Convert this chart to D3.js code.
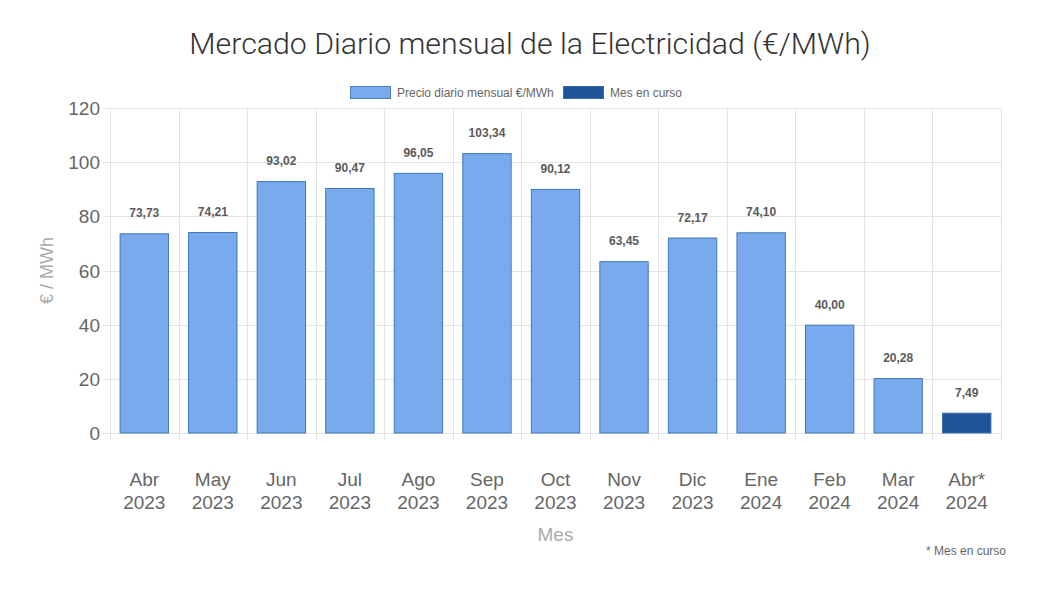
<!DOCTYPE html>
<html>
    <head>
        <meta charset="utf-8">
        <title>Mercado Diario mensual de la Electricidad</title>
        <script src="https://d3js.org/d3.v7.min.js"></script>
        <style>
            body {
                margin: 0;
                background: #ffffff;
                font-family: 'Liberation Sans', Arial, sans-serif;
            }
            svg {
                display: block;
            }
            .grid line {
                stroke: #e4e4e4;
                stroke-width: 1px;
            }
            .tick-label {
                fill: #666;
                font-size: 19px;
            }
            .value-label {
                fill: #5a5a5a;
                font-size: 12px;
                font-weight: bold;
            }
        </style>
    </head>
    <body>
        <script>
            const months = ['Abr', 'May', 'Jun', 'Jul', 'Ago', 'Sep', 'Oct', 'Nov', 'Dic', 'Ene', 'Feb', 'Mar', 'Abr*'];
            const years = ['2023', '2023', '2023', '2023', '2023', '2023', '2023', '2023', '2023', '2024', '2024', '2024', '2024'];
            const prices = [73.73, 74.21, 93.02, 90.47, 96.05, 103.34, 90.12, 63.45, 72.17, 74.1, 40.0, 20.28, 7.49];
            const current = [false, false, false, false, false, false, false, false, false, false, false, false, true];
            const yTicks = [0, 20, 40, 60, 80, 100, 120];

            const width = 1052;
            const height = 599;
            const margin = { left: 110, right: 51, top: 108, bottom: 166 };
            const plotW = width - margin.left - margin.right;
            const plotH = height - margin.top - margin.bottom;

            const svg = d3.select('body').append('svg').attr('width', width).attr('height', height);

            const x = d3.scaleBand().domain(d3.range(months.length)).range([margin.left, margin.left + plotW]).paddingInner(0).paddingOuter(0);
            const y = d3.scaleLinear().domain([0, 120]).range([margin.top + plotH, margin.top]);
            const barW = x.bandwidth() * 0.72;

            // title
            svg.append('text')
                .attr('x', 530)
                .attr('y', 54)
                .attr('text-anchor', 'middle')
                .style('font-family', 'Roboto, sans-serif')
                .style('font-weight', 300)
                .style('font-size', '30.3px')
                .style('fill', '#333')
                .text('Mercado Diario mensual de la Electricidad (€/MWh)');

            // legend
            const legendItems = [
                { label: 'Precio diario mensual €/MWh', fill: '#7aaaee', stroke: '#4a7fb8', x: 350 },
                { label: 'Mes en curso', fill: '#1f5497', stroke: '#3b6da8', x: 563 }
            ];
            const legend = svg.append('g');
            legend.selectAll('rect').data(legendItems).enter().append('rect')
                .attr('x', (d) => d.x + 0.5)
                .attr('y', 86.5)
                .attr('width', 40)
                .attr('height', 12)
                .attr('fill', (d) => d.fill)
                .attr('stroke', (d) => d.stroke);
            legend.selectAll('text').data(legendItems).enter().append('text')
                .attr('x', (d) => d.x + 47)
                .attr('y', 97)
                .style('font-size', '12px')
                .style('fill', '#666')
                .text((d) => d.label);

            // horizontal grid
            const grid = svg.append('g').attr('class', 'grid');
            grid.selectAll('line.h').data(yTicks).enter().append('line')
                .attr('class', 'h')
                .attr('x1', margin.left - 7)
                .attr('x2', margin.left + plotW)
                .attr('y1', (d) => Math.round(y(d)) + 0.5)
                .attr('y2', (d) => Math.round(y(d)) + 0.5);

            // vertical grid at category boundaries
            const bounds = d3.range(months.length + 1).map((i) => margin.left + i * x.step());
            grid.selectAll('line.v').data(bounds).enter().append('line')
                .attr('class', 'v')
                .attr('x1', (d) => Math.round(d) + 0.5)
                .attr('x2', (d) => Math.round(d) + 0.5)
                .attr('y1', margin.top)
                .attr('y2', margin.top + plotH + 7);

            // y tick labels
            svg.append('g').selectAll('text').data(yTicks).enter().append('text')
                .attr('class', 'tick-label')
                .attr('x', margin.left - 10)
                .attr('y', (d) => y(d) + 7)
                .attr('text-anchor', 'end')
                .text((d) => d);

            // y axis title
            svg.append('text')
                .attr('transform', `translate(53,${margin.top + plotH / 2}) rotate(-90)`)
                .attr('text-anchor', 'middle')
                .style('font-size', '18px')
                .style('fill', '#aaa')
                .text('€ / MWh');

            // bars
            svg.append('g').selectAll('rect').data(prices).enter().append('rect')
                .attr('x', (d, i) => x(i) + (x.bandwidth() - barW) / 2 + 0.5)
                .attr('y', (d) => y(d) + 0.5)
                .attr('width', barW - 1)
                .attr('height', (d) => y(0) - y(d) - 0.5)
                .attr('fill', (d, i) => (current[i] ? '#1f5497' : '#7aaaee'))
                .attr('stroke', (d, i) => (current[i] ? '#3b6da8' : '#3f78b3'))
                .attr('stroke-width', 1);

            // value labels
            const fmt = (v) => v.toFixed(2).replace('.', ',');
            svg.append('g').selectAll('text').data(prices).enter().append('text')
                .attr('class', 'value-label')
                .attr('x', (d, i) => x(i) + x.bandwidth() / 2)
                .attr('y', (d) => y(d) - 16)
                .attr('text-anchor', 'middle')
                .text((d) => fmt(d));

            // x labels
            const xl = svg.append('g').selectAll('text').data(months).enter().append('text')
                .attr('class', 'tick-label')
                .attr('text-anchor', 'middle')
                .attr('x', (d, i) => x(i) + x.bandwidth() / 2)
                .attr('y', 486);
            xl.append('tspan').text((d) => d);
            xl.append('tspan')
                .attr('x', (d, i) => x(i) + x.bandwidth() / 2)
                .attr('dy', 23)
                .text((d, i) => years[i]);

            // x axis title
            svg.append('text')
                .attr('x', margin.left + plotW / 2)
                .attr('y', 541)
                .attr('text-anchor', 'middle')
                .style('font-size', '19px')
                .style('fill', '#aaa')
                .text('Mes');

            // footnote
            svg.append('text')
                .attr('x', 1006)
                .attr('y', 555)
                .attr('text-anchor', 'end')
                .style('font-size', '12px')
                .style('fill', '#666')
                .text('* Mes en curso');
        </script>
    </body>
</html>
